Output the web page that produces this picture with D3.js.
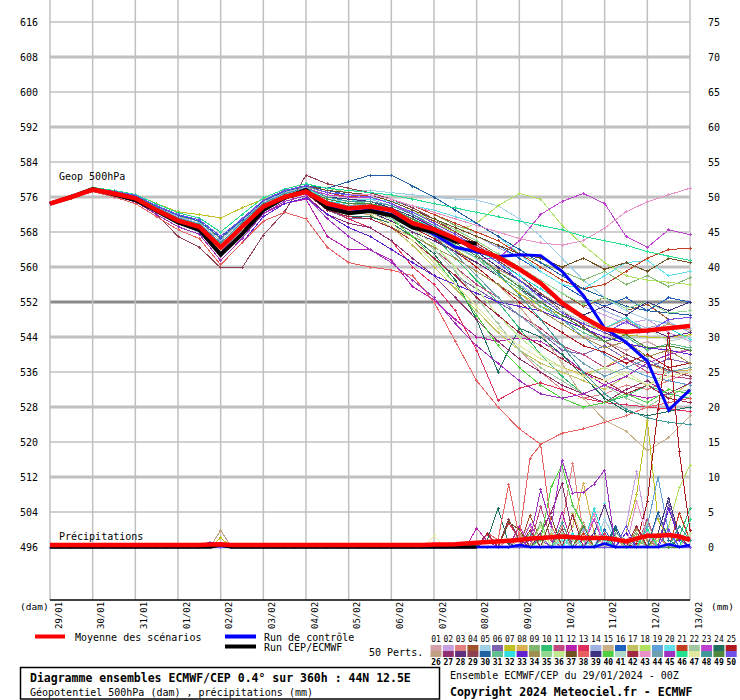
<!DOCTYPE html>
<html><head><meta charset="utf-8">
<script src="https://cdn.jsdelivr.net/npm/d3@7"></script>
<style>
body{margin:0;background:#fff;}
svg{display:block;font-family:"DejaVu Sans Mono",monospace;}
</style></head><body>
<svg id="c" width="740" height="700"></svg>
<script>
// ---------------- DATA ----------------
const dayLabels = ["29/01","30/01","31/01","01/02","02/02","03/02","04/02","05/02","06/02","07/02","08/02","09/02","10/02","11/02","12/02","13/02"];
const dayHours = [0,24,48,72,96,120,144,168,192,216,240,264,288,312,336,360];
const geopTicks = [496,504,512,520,528,536,544,552,560,568,576,584,592,600,608,616];
const precipTicks = [0,5,10,15,20,25,30,35,40,45,50,55,60,65,70,75];
const geopHours = [0,12,24,36,48,60,72,84,96,108,120,132,144,156,168,180,192,204,216,228,240,252,264,276,288,300,312,324,336,348,360];
const precipHours = [0,6,12,18,24,30,36,42,48,54,60,66,72,78,84,90,96,102,108,114,120,126,132,138,144,150,156,162,168,174,180,186,192,198,204,210,216,222,228,234,240,246,252,258,264,270,276,282,288,294,300,306,312,318,324,330,336,342,348,354,360];

const meanGeop = [574.5,576,577.7,576.8,575.7,573,570.6,569.2,564.5,569.2,573.8,576,577.2,574.5,573.4,573.8,573,570,568.6,566.5,564,562.3,559.5,556.3,551.8,548.5,545.8,545.2,545.5,546,546.5];
const controlGeop = [574.5,576,577.7,576.7,575.5,572.8,570.2,568.3,563,567.5,573.2,575.8,577.4,574,572.5,573,572,569.8,567.5,564.5,563.5,562.4,562.8,562.6,559,553.5,546,542.8,538.5,527.3,531.9];
const hresGeop = [574.5,576,577.8,576.6,575.3,572.8,570.2,568.5,562.8,567.5,573,575.8,577.6,573.5,572.3,572.8,571.8,569,568,565.8,565.4];

const memberColors = ["#d4a0a8","#c8a0e0","#e08080","#a0522d","#a0d0e8","#8060b0","#c0c020","#d8b050","#80b870","#30c070",
"#c04880","#b820b0","#e03060","#a0b0e0","#c8b088","#2060c0","#c0c060","#b0e060","#60a0d8","#60e0e8",
"#c04020","#a0c8a0","#c040d0","#207060","#b01820","#c0a080","#903070","#603080","#904050","#2060a0",
"#60c090","#30e0e0","#6020d0","#a09050","#90d890","#c0e890","#705020","#e86060","#403080","#50d040",
"#b0d8c8","#a02840","#e890c8","#70a0b0","#a030c0","#20e090","#e0e8a0","#409898","#508840","#7050e8"];

const memberGeop = [
[574.5,576,577.8,577,575.8,573.2,570.8,569.5,564.8,569.6,574.2,576.4,577.5,575,574,574,572,569.5,567,564,561,558,554,550,547,544,543,541,543,540.5,541],
[574.5,576.2,577.9,577.1,576,573.6,571.2,569.8,565.5,570.2,574.6,576.8,578,576,575,575,573.5,571.5,569.5,567,565,562.5,560,557,554,551,549,547,548,545,543],
[574.5,576,577.6,576.6,575.5,572.8,570.3,568.8,563.8,568.8,573.5,575.8,577,574,572.5,573,571,568,564,559,553,547,541,536,532,530,531,533,532,534,536],
[574.5,576.1,578,577.3,576.4,574,572,570.8,567,571,575.3,577.5,578.6,577,576,576,574.5,572.5,570.5,568,565.5,562.5,560,557,554,551,553,550,551.5,548,548.5],
[574.5,576.3,578.2,577.5,576.6,574.4,572.4,571.2,568,572,575.8,577.8,579,578,577.5,577.5,577,576.5,576,575.5,575.3,574,571,567,562,557,553,550,548,547,546],
[574.5,575.8,577.4,576.5,575.2,572.5,570,568.5,563.2,568,573,575.5,576.8,573,571,571,569,566,562,558,555,552,549,545,541,540,542,539,537,539,538],
[574.5,576.1,578,577.4,576.5,574.5,572.6,572,571.2,573.5,575.5,577,577.6,574,573,573.5,572,570,567,564,561,558,554,551,549,547,545.5,544.5,544,544,544.5],
[574.5,576.1,577.8,577,575.7,573.3,570.9,569.4,565,569.8,574.3,576.5,577.8,575.5,574.5,574,572,569,565,560,555,549,544,540,537,535.5,537,540,538,536,536.5],
[574.5,576.2,578.1,577.4,576.2,573.8,571.7,570.4,566.4,570.6,575,577.2,578.3,577,576.5,576.5,575.5,574,572,569.5,568,566,563,561,559,557,559,556,558,555.5,557.5],
[574.5,576,577.7,576.9,575.6,573,570.5,569,564,569,573.8,576.2,577.4,575,574,574.5,573.5,571,567,562,557,552,546,540,535,531,529,530.5,533,531,530],
[574.5,575.9,577.5,576.7,575.4,572.6,570.1,568.4,563.5,568.5,573.2,575.6,576.7,574.5,573,573,571,568,564,560,556,553,549,546,542,540,537,539,536,535,534.5],
[574.5,575.9,577.5,576.3,574.9,572,569.2,567.5,561.5,566.5,572.2,574.5,575.5,567,564,563.9,561.6,555.5,552.5,548,544,543,543.8,543,540,536,533,531,530,531,532],
[574.5,575.8,577.4,576.5,575.2,572.5,570,568.5,563.2,568,573,575.5,576.8,573.5,571,569,566,560,556,550,541,529.6,532.3,533.5,532,530,529,528.5,528,527.5,527],
[574.5,576.3,578,577.2,576.1,573.8,571.5,570,566,570.5,574.9,577,578.2,576,575.5,575.5,574,572.5,571,569,567,564.5,562,559,556,553,550,548,546,547.5,545],
[574.5,576,577.9,577.1,575.9,573.4,571,569.7,565.2,569.9,574.4,576.5,577.6,575,574,573.5,572,570,567,564,560,556,551,545,538,530,525,522.5,518,521,526],
[574.5,576,577.9,577.2,576.2,573.9,571.8,570.5,566.6,570.8,575.1,577.3,578.5,577.5,576.5,576.5,575,573,571,569,567,565,562,559,556,553,551,553,550,553,552],
[574.5,576,577.6,576.6,575.5,572.8,570.3,568.8,563.8,568.8,573.5,575.8,577,574,572.5,572,569,565,560,555,550,545,541,538,536,534,532,535,533,530,533.5],
[574.5,576.3,578.2,577.5,576.6,574.4,572.4,571.2,568,572,575.8,577.8,579,578,577,576.5,575,573,570,568,570,574,576.8,575.5,569.5,565,561,558,557,556.5,556],
[574.5,576.2,577.9,577.1,576,573.6,571.2,569.8,565.5,570.2,574.6,576.8,578,576,575,574.5,573,570.5,568,565,562,559,556,552,548,544,540,537,535,534,533],
[574.5,576.1,577.9,577.1,576,573.5,571.1,569.9,565.4,570,574.5,576.7,577.9,575.5,575,575.5,575,574,573,571.5,570,567,563,559,556,555,558,561,561.5,558,559],
[574.5,576.1,578,577.3,576.4,574,572,570.8,567,571,575.3,577.5,578.6,577,576,576.5,575.5,574,572,570,568,566,563,560,557,555,556,559,562,564,564.3],
[574.5,575.9,577.6,576.6,575.3,572.6,570,568.3,563,568.2,573.2,575.6,576.9,574,573,573,571,568,564,559,553,547,541,537,534,531,533,530,528,531,532],
[574.5,576.2,577.9,577.1,576,573.6,571.2,569.8,565.5,570.2,574.6,576.8,578,576.5,576,576,574.5,572,569,565,562,562,566,572,575,576.8,574.5,567,564.5,568.5,567.4],
[574.5,575.8,577.4,576.5,575.2,572.5,570,568.5,563.2,568,573,575.5,576.8,573,571.5,571.5,570,567,563,557,548,536,546,544,540,535,530,527,526,527,528],
[574.5,576,577.6,576.6,575.5,572.8,570.3,568.8,563.8,568.8,573.5,575.8,577,574.5,573,573,571,569,566.5,563.5,560,556,552,548,545,542,540.5,538,540,537,538],
[574.5,576,577.8,577,575.8,573.2,570.8,569.5,564.8,569.6,574.2,576.4,577.5,575,574.5,574,572.5,570.5,568,565.5,562.5,559.5,557,554,551,548,546,548,545,547,545.5],
[574.5,575.9,577.5,576.3,574.9,572,569.2,567.5,561.5,566.5,572.2,575,576.3,572,570,569,566,562,558,553,548,543,539,536,533,531,529,532,534,531,533.5],
[574.5,576,577.6,576.6,575.5,572.8,570.3,568.8,563.8,568.8,573.5,575.8,577,574,573,572.5,570.5,568,566,563.5,561,558,555,552,549,547,545,543,546,544,545],
[574.5,576,577.5,576.5,575,572,567,564.5,559.8,559.8,567.3,572.6,581,579,578,577,575.5,573.5,571,568,565,561.5,558,554,550,546.5,543,540,538,536.5,535],
[574.5,576.1,578,577.3,576.4,574,572,570.8,567,571,575.3,577.5,578.6,578,579.5,581,581,578.5,576,573,570,567,564,561,558,555,553,551,550,549.5,549],
[574.5,576.2,577.9,577.1,576,573.6,571.2,569.8,565.5,570.2,574.6,576.8,578,576,575,574.5,573,570.5,568,565,562,558,555,551,548,545,543,544,541,542.5,541.5],
[574.5,576,577.8,577,575.8,573.2,570.8,569.5,564.8,569.6,574.2,576.4,577.5,575,574.5,574.5,573,571,569,566.5,564,561,558,555,552,549,546,548.5,545,546,543.5],
[574.5,575.7,577.2,576,574.5,571.5,568.5,566.5,560.5,565.5,571.5,574.5,575.8,572,569,567,564,561,558,556,554,552,551,550,548,546,544,542.5,541.5,541,540],
[574.5,575.8,577.4,576.5,575.2,572.5,570,568.5,563.2,568,573,575.5,576.8,573,571.5,571,569,567,564.5,562,559,556,553,550,547,544,541.5,543,539.5,541,538],
[574.5,576.3,578.2,577.5,576.6,574.4,572.4,571.2,568,572,575.8,577.8,579,578,577,576.5,575,573,571,568.5,566,563,560,557,554,551.5,553,550.5,552,549.5,550],
[574.5,576,577.8,577,575.8,573.2,570.8,569.5,564.8,569.6,574.2,576.4,577.5,575,574,574,572,569,565,560,555,549,544,540,537,535,537,535,533,536,537],
[574.5,576.1,578,577.3,576.4,574,572,570.8,567,571,575.3,577.5,578.6,577.5,577,576.5,575,573,571,569,567,565,563,562,560,562,559.5,561,559,562,561],
[574.5,575.7,577.2,576,574.5,571.5,568.5,566.5,560.5,565.5,570.5,572.5,571,564.5,561,560,559.3,558,552,543,534,528,523,519.5,522,523,524.5,526,528,529,530],
[574.5,576.2,577.9,577.1,576,573.6,571.2,569.8,565.5,570.2,574.6,576.8,578,576,575.5,575,573.5,571.5,569,566.5,563.5,560,557,553.5,551,549,551,549,552,550,552],
[574.5,576,577.8,577,575.8,573.2,570.8,569.5,564.8,569.6,574.2,576.4,577.5,575,574,573.5,571,567,562,556,549,542,537,533,530,528,529,531,529,532,531],
[574.5,576,577.6,576.6,575.5,572.8,570.3,568.8,563.8,568.8,573.5,575.8,577,574,573,572.5,571,569,567,564.5,562,559,556,553,550,547.5,545.5,543,546,543,544],
[574.5,575.8,577.4,576.5,575.2,572.5,570,568.5,563.2,568,573,575.5,576.8,573,571.5,571,569,566,562,558,553,549,545,542,539,536,534,531,533,530,529],
[574.5,576.1,578,577.3,576.4,574,572,570.8,567,571,575.3,577.5,578.6,577,576.5,576.5,575.5,574,572.5,571,569.5,568,566.5,565.5,565,566,568.9,572.6,574.9,576.5,578],
[574.5,576,577.8,577,575.8,573.2,570.8,569.5,564.8,569.6,574.2,576.4,577.5,575,574,574.5,573,570.5,567,563,558,553,549,545,542,538,535,537,539,536,537],
[574.5,575.9,577.5,576.3,574.9,572,569.2,567.5,561.5,566.5,572.2,575,576.3,571,567,564,561,557,553,547,542,538,534,531,530,531,533,535,538,540,541],
[574.5,576.3,578.2,577.5,576.6,574.4,572.4,571.2,568,572,575.8,577.8,579,578,577.5,577,576.5,575.5,574.5,573.5,572.5,571.5,570.5,569.5,568.5,567,566,565,563.5,562.5,561.5],
[574.5,576,577.6,576.6,575.5,572.8,570.3,568.8,563.8,568.8,573.5,575.8,577,574,573,572.5,570,566,561,556,551,546,542,539,537,535,534,536,533,535,536],
[574.5,576.2,577.9,577.1,576,573.6,571.2,569.8,565.5,570.2,574.6,576.8,578,576,575,575,574,572,569.5,566.5,563,558.5,553.5,548,542,536,531,527.5,525.5,524.5,524],
[574.5,576,577.8,577,575.8,573.2,570.8,569.5,564.8,569.6,574.2,576.4,577.5,575.5,574.5,574.5,573,571,568.5,565.5,562.5,559,555.5,552,549,546,543,544.5,541.5,542,541],
[574.5,576.1,578,577.3,576.4,574,572,570.8,567,571,575.3,577.5,578.6,577,576.5,576,574.5,572.5,570,567.5,564.5,561,557,553,549.5,547,545,547.5,545,548,548.5]
];

// precipitation (mm), 6-hourly; members listed as [hour, mm] for the steps where rain is shown, 0 elsewhere
const meanPrecip = [0.3,0.3,0.3,0.3,0.3,0.3,0.3,0.3,0.3,0.3,0.3,0.3,0.3,0.3,0.3,0.35,0.4,0.3,0.3,0.3,0.3,0.3,0.3,0.3,0.3,0.3,0.3,0.3,0.3,0.3,0.3,0.3,0.3,0.3,0.3,0.3,0.35,0.35,0.4,0.5,0.6,0.7,0.8,0.9,1.0,1.2,1.3,1.4,1.5,1.4,1.3,1.3,1.3,1.1,0.8,1.2,1.6,1.6,1.7,1.5,1.0];
const controlPrecip = [[90,0.6],[96,0.2],[264,0.3],[312,0.5],[348,0.4],[360,0.3]];
const hresPrecip = [[96,0.3]];
const hresLastHour = 240;
const memberPrecip = [
[[264,1.5],[270,3],[300,1.2],[318,1],[336,2.5]],
[[288,1.5],[324,3],[330,10.8],[336,2]],
[[258,1],[288,3],[294,12],[300,2],[342,1.5]],
[[270,4.5],[276,1],[324,2],[354,1.2]],
[[282,2],[312,4],[318,1]],
[[276,1.5],[348,6.3],[354,1]],
[[96,1.3],[324,2],[330,7.5],[336,18.1],[342,3.9],[348,1]],
[[294,3],[300,9.1],[306,2],[336,1.5]],
[[264,2],[276,3.5],[300,1],[330,2]],
[[300,1.5],[354,1.5],[360,5.5]],
[[276,5.8],[282,1],[336,4]],
[[240,2.7],[246,0.8],[264,3],[288,5],[300,1]],
[[246,1.8],[258,3.4],[264,1.2],[312,2]],
[[300,2.5],[342,4.5],[348,1]],
[[264,1],[288,2.5],[330,1.5]],
[[90,0.5],[276,1.2],[312,2.5]],
[[282,2],[294,4.8],[300,1]],
[[342,1],[348,3],[354,8.5],[360,11.7]],
[[336,3],[342,10],[348,2]],
[[288,1],[306,1.5],[312,6.2],[318,1]],
[[300,2],[354,4.8],[360,1]],
[[288,1.5],[336,3.5]],
[[270,3.2],[276,1],[306,4]],
[[246,1],[252,5.5],[258,0.5],[318,2.5]],
[[330,0.5],[336,6.5],[342,19.6],[348,30.5],[354,13.6],[360,2.4]],
[[96,2.4],[264,2],[300,3.5],[318,1]],
[[276,2],[282,5],[288,9.1],[294,2]],
[[306,2],[312,6],[318,1.5],[342,2]],
[[258,4],[264,1],[288,2.5]],
[[318,3],[342,5],[348,1]],
[[270,2],[312,1.5],[330,1]],
[[294,2],[306,5.5],[312,1]],
[[324,2],[348,5.5],[354,1]],
[[330,2.5],[336,1]],
[[288,2],[294,1],[318,1.5]],
[[276,3],[360,2]],
[[258,3.5],[264,2.5],[282,4.2]],
[[246,2],[252,1],[258,8.9],[264,1.4],[270,12.7],[276,14.6],[282,3]],
[[342,2],[348,7],[354,1.5]],
[[276,1],[282,8.6],[288,11.7],[294,6],[300,3]],
[[282,2.5],[300,1.5]],
[[246,2],[270,2.4],[294,4.5],[330,3]],
[[306,4.8],[330,6.5],[336,1.5]],
[[318,2],[324,1]],
[[270,1],[276,8.2],[282,3],[288,12.4],[294,7.7],[300,7.8],[306,9],[312,11]],
[[312,1.5],[336,2.5],[360,4]],
[[216,1.6],[282,1.5]],
[[288,3.5],[354,3],[360,1]],
[[300,3],[342,2]],
[[324,3],[348,2.5]]
];

// ---------------- DRAWING ----------------
const svg = d3.select("#c");
const x = d3.scaleLinear().domain([0,360]).range([50,690]);
const yG = d3.scaleLinear().domain([496,616]).range([547,22]);
const yP = d3.scaleLinear().domain([0,75]).range([547,22]);
const MONO = '"DejaVu Sans Mono", monospace';

// grid
const grid = svg.append("g");
geopTicks.forEach(t => {
  const special = t === 552;
  const thick = (t - 496) % 16 === 0;
  grid.append("line").attr("x1",50).attr("x2",690).attr("y1",yG(t)).attr("y2",yG(t))
    .attr("stroke", special ? "#8a8a8a" : "#c0c0c0")
    .attr("stroke-width", special ? 3 : (thick ? 3 : 1.5));
});
dayHours.forEach(h => {
  grid.append("line").attr("x1",x(h)).attr("x2",x(h)).attr("y1",0).attr("y2",600)
    .attr("stroke","#c0c0c0").attr("stroke-width",1.5);
});
svg.append("line").attr("x1",50).attr("x2",690).attr("y1",600).attr("y2",600)
  .attr("stroke","#000").attr("stroke-width",1.5);

// axes labels
const axL = svg.append("g").attr("transform","translate(38,0)")
  .call(d3.axisLeft(yG).tickValues(geopTicks).tickSize(0).tickPadding(0).tickFormat(d3.format("d")));
axL.select(".domain").remove();
axL.selectAll("text").attr("font-family",MONO).attr("font-size",10).attr("fill","#000");
const axR = svg.append("g").attr("transform","translate(708,0)")
  .call(d3.axisRight(yP).tickValues(precipTicks).tickSize(0).tickPadding(0).tickFormat(d3.format("d")));
axR.select(".domain").remove();
axR.selectAll("text").attr("font-family",MONO).attr("font-size",10).attr("fill","#000");

dayHours.forEach((h,i) => {
  svg.append("text").attr("transform",`translate(${x(h)+11.5},629) rotate(-90)`)
    .attr("font-family",MONO).attr("font-size",9).attr("fill","#000").text(dayLabels[i]);
});
svg.append("text").attr("x",20).attr("y",610).attr("font-family",MONO).attr("font-size",9.5).text("(dam)");
svg.append("text").attr("x",711).attr("y",610).attr("font-family",MONO).attr("font-size",9.5).text("(mm)");

svg.append("text").attr("x",59).attr("y",179.5).attr("font-family",MONO).attr("font-size",10).text("Geop 500hPa");
svg.append("text").attr("x",59).attr("y",539.5).attr("font-family",MONO).attr("font-size",10).text("Précipitations");

// series helpers
const geopLine = d3.line().x((d,i)=>x(geopHours[i])).y(d=>yG(d));
const precipLine = d3.line().x(d=>x(d[0])).y(d=>yP(d[1]));
function expand(sparse, lastHour){
  const m = new Map(sparse);
  return precipHours.filter(h=>h<=lastHour).map(h=>[h, m.has(h)? m.get(h) : 0]);
}
function crosses(pts){
  return pts.map(p=>`M${(p[0]-1.5).toFixed(1)},${p[1].toFixed(1)}h3M${p[0].toFixed(1)},${(p[1]-1.5).toFixed(1)}v3`).join("");
}

const mem = svg.append("g").attr("shape-rendering","crispEdges");
memberGeop.forEach((vals,k) => {
  const c = memberColors[k];
  mem.append("path").attr("d",geopLine(vals)).attr("fill","none").attr("stroke",c).attr("stroke-width",1);
  mem.append("path").attr("d",crosses(vals.map((v,i)=>[x(geopHours[i]),yG(v)]))).attr("fill","none").attr("stroke",c).attr("stroke-width",1);
});
memberPrecip.forEach((sp,k) => {
  const c = memberColors[k];
  const pts = expand(sp,360);
  mem.append("path").attr("d",precipLine(pts)).attr("fill","none").attr("stroke",c).attr("stroke-width",1);
  mem.append("path").attr("d",crosses(pts.map(p=>[x(p[0]),yP(p[1])]))).attr("fill","none").attr("stroke",c).attr("stroke-width",1);
});

// control, HRES, mean
svg.append("path").attr("d",geopLine(controlGeop)).attr("fill","none").attr("stroke","#0000ff").attr("stroke-width",3);
svg.append("path").attr("d",precipLine(expand(controlPrecip,360))).attr("fill","none").attr("stroke","#0000ff").attr("stroke-width",2.5);
svg.append("path").attr("d",geopLine(hresGeop)).attr("fill","none").attr("stroke","#000").attr("stroke-width",4);
svg.append("path").attr("d",precipLine(expand(hresPrecip,hresLastHour))).attr("fill","none").attr("stroke","#000").attr("stroke-width",3.5);
svg.append("path").attr("d",geopLine(meanGeop)).attr("fill","none").attr("stroke","#ff0000").attr("stroke-width",4.5);
svg.append("path").attr("d",precipLine(precipHours.map((h,i)=>[h,meanPrecip[i]]))).attr("fill","none").attr("stroke","#ff0000").attr("stroke-width",4.5);

// legend
const lg = svg.append("g").attr("font-family",MONO).attr("font-size",10);
lg.append("rect").attr("x",35).attr("y",634.5).attr("width",30).attr("height",4).attr("fill","#ff0000");
lg.append("text").attr("x",75).attr("y",640.5).text("Moyenne des scénarios");
lg.append("rect").attr("x",225).attr("y",634.5).attr("width",31).attr("height",4).attr("fill","#0000ff");
lg.append("text").attr("x",264).attr("y",640.5).text("Run de contrôle");
lg.append("rect").attr("x",225).attr("y",644.5).attr("width",31).attr("height",4).attr("fill","#000");
lg.append("text").attr("x",264).attr("y",650.5).text("Run CEP/ECMWF");
lg.append("text").attr("x",369).attr("y",656).text("50 Perts.");

const sw = svg.append("g").attr("font-family",MONO).attr("font-size",8);
memberColors.forEach((c,k) => {
  const col = k % 25, row = Math.floor(k/25);
  const x0 = 430.5 + col*12.3;
  sw.append("rect").attr("x",x0).attr("y",row?651:645).attr("width",11).attr("height",6).attr("fill",c);
  sw.append("text").attr("x",x0+5.5).attr("y",row?664.5:642).attr("text-anchor","middle")
    .attr("font-weight", row? "bold":"normal").text(String(k+1).padStart(2,"0"));
});

// title boxes
svg.append("rect").attr("x",20.5).attr("y",667.5).attr("width",419).attr("height",31.5)
  .attr("fill","none").attr("stroke","#000").attr("stroke-width",1.5);
svg.append("text").attr("x",30).attr("y",681.5).attr("font-family",MONO).attr("font-size",11.5).attr("font-weight","bold")
  .text("Diagramme ensembles ECMWF/CEP 0.4° sur 360h : 44N 12.5E");
svg.append("text").attr("x",30).attr("y",696).attr("font-family",MONO).attr("font-size",10)
  .text("Géopotentiel 500hPa (dam) , précipitations (mm)");
svg.append("text").attr("x",450).attr("y",679).attr("font-family",MONO).attr("font-size",10)
  .text("Ensemble ECMWF/CEP du 29/01/2024 - 00Z");
svg.append("text").attr("x",450).attr("y",696).attr("font-family",MONO).attr("font-size",11.5).attr("font-weight","bold")
  .text("Copyright 2024 Meteociel.fr - ECMWF");
</script>
</body></html>
